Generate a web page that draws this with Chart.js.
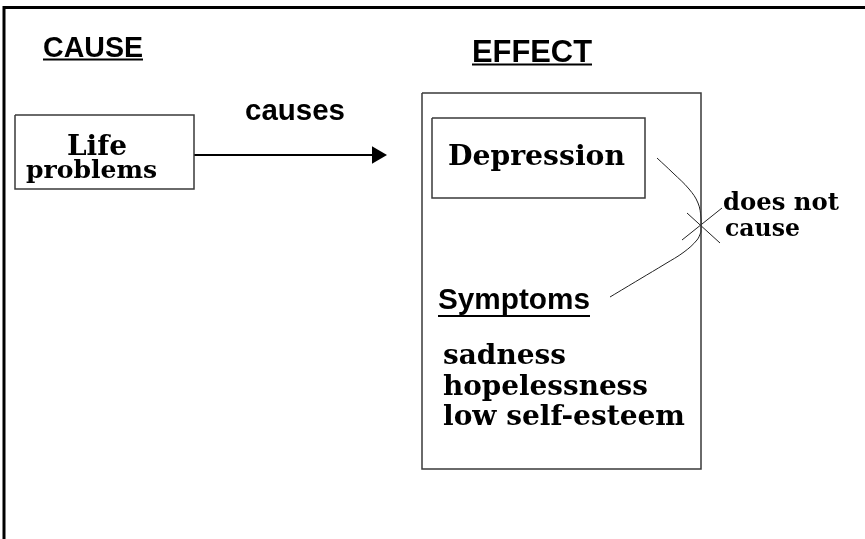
<!DOCTYPE html>
<html><head><meta charset="utf-8">
<script src="https://cdn.jsdelivr.net/npm/chart.js@4/dist/chart.umd.min.js"></script>
<style>html,body{margin:0;padding:0;background:#fff;overflow:hidden}canvas{display:block}</style>
</head><body>
<canvas id="c" width="865" height="539"></canvas>
<script>
// ---------- content ----------
const headings = ['CAUSE', 'EFFECT'];
const linkLabel = ['causes'];
const causeLines = ['Life', 'problems'];
const effectTitle = ['Depression'];
const negLabel = ['does not', 'cause'];
const symptomsTitle = ['Symptoms'];
const symptoms = ['sadness', 'hopelessness', 'low self-esteem'];

// ---------- diagram geometry (diagram units, y grows downward) ----------
const frameX = [865, 4, 4];
const frameY = [7.5, 7.5, 539];
const boxX0 = [15, 422, 432];
const boxX1 = [194, 701, 645];
const boxY0 = [115, 93, 118];
const boxY1 = [189, 469, 198];
const arrowX = [194, 375];
const arrowY = [155, 155];
const arcUpX = [657, 673, 689, 698, 701, 701];
const arcUpY = [158, 173, 189, 203, 218, 232];
const arcLowX = [701, 697, 684, 665, 640, 610];
const arcLowY = [232, 240, 252, 264, 279, 297];
const crossAX = [687, 720], crossAY = [213, 243];
const crossBX = [682, 722], crossBY = [240, 208];

// text placement: left x, baseline y, target width
const SANS = '"Liberation Sans", Arial, sans-serif';
const SERIF = '"DejaVu Serif", serif';
const textItems = [
  {t: headings[0], x: 43, y: 57, w: 100, f: SANS, u: 59.5},
  {t: headings[1], x: 472, y: 62, w: 120, f: SANS, u: 64.5},
  {t: linkLabel[0], x: 245, y: 120, w: 100, f: SANS},
  {t: causeLines[0], x: 67, y: 155, w: 60, f: SERIF},
  {t: causeLines[1], x: 26, y: 178, w: 131, f: SERIF},
  {t: effectTitle[0], x: 448, y: 165, w: 177, f: SERIF},
  {t: negLabel[0], x: 723, y: 210, w: 116, f: SERIF},
  {t: negLabel[1], x: 725, y: 236, w: 75, f: SERIF},
  {t: symptomsTitle[0], x: 438, y: 309, w: 152, f: SANS, u: 316},
  {t: symptoms[0], x: 443, y: 364, w: 123, f: SERIF},
  {t: symptoms[1], x: 443, y: 395, w: 205, f: SERIF},
  {t: symptoms[2], x: 443, y: 425, w: 242, f: SERIF}
];

function pts(xs, ys) { return xs.map((x, i) => ({x: x, y: ys[i]})); }
function boxPts(i) {
  return [{x: boxX0[i], y: boxY0[i]}, {x: boxX1[i], y: boxY0[i]}, {x: boxX1[i], y: boxY1[i]},
          {x: boxX0[i], y: boxY1[i]}, {x: boxX0[i], y: boxY0[i]}];
}
const lineBase = {showLine: true, pointRadius: 0, fill: false, tension: 0, clip: false};

const datasets = [
  Object.assign({}, lineBase, {data: pts(frameX, frameY), borderColor: '#000', borderWidth: 3}),
  Object.assign({}, lineBase, {data: boxPts(0), borderColor: '#3a3a3a', borderWidth: 1.5}),
  Object.assign({}, lineBase, {data: boxPts(1), borderColor: '#3a3a3a', borderWidth: 1.5}),
  Object.assign({}, lineBase, {data: boxPts(2), borderColor: '#3a3a3a', borderWidth: 1.5}),
  Object.assign({}, lineBase, {data: pts(arrowX, arrowY), borderColor: '#000', borderWidth: 2}),
  {data: [{x: arrowX[1] + 2, y: arrowY[1]}], showLine: false, pointStyle: 'triangle', rotation: 90,
   pointRadius: 10, backgroundColor: '#000', borderColor: '#000', borderWidth: 0, clip: false},
  Object.assign({}, lineBase, {data: pts(arcUpX, arcUpY), borderColor: '#222', borderWidth: 1, tension: 0.4}),
  Object.assign({}, lineBase, {data: pts(arcLowX, arcLowY), borderColor: '#222', borderWidth: 1, tension: 0.4}),
  Object.assign({}, lineBase, {data: pts(crossAX, crossAY), borderColor: '#222', borderWidth: 1}),
  Object.assign({}, lineBase, {data: pts(crossBX, crossBY), borderColor: '#222', borderWidth: 1})
];

const textPlugin = {
  id: 'diagramText',
  afterDatasetsDraw(chart) {
    const ctx = chart.ctx, sx = chart.scales.x, sy = chart.scales.y;
    ctx.save();
    ctx.fillStyle = '#000';
    ctx.textBaseline = 'alphabetic';
    ctx.textAlign = 'left';
    textItems.forEach(it => {
      ctx.font = 'bold 20px ' + it.f;
      const size = 20 * it.w / ctx.measureText(it.t).width;
      ctx.font = 'bold ' + size.toFixed(2) + 'px ' + it.f;
      const px = sx.getPixelForValue(it.x), py = sy.getPixelForValue(it.y);
      ctx.fillText(it.t, px, py);
      if (it.u) {
        const uy = sy.getPixelForValue(it.u);
        ctx.fillRect(px, uy - 1, sx.getPixelForValue(it.x + it.w) - px, 2);
      }
    });
    ctx.restore();
  }
};

new Chart(document.getElementById('c'), {
  type: 'scatter',
  data: {datasets: datasets},
  options: {
    responsive: false,
    animation: false,
    devicePixelRatio: 1,
    layout: {padding: 0, autoPadding: false},
    plugins: {legend: {display: false}, tooltip: {enabled: false}},
    events: [],
    scales: {
      x: {type: 'linear', min: 0, max: 865, display: false},
      y: {type: 'linear', min: 0, max: 539, reverse: true, display: false}
    }
  },
  plugins: [textPlugin]
});
</script>
</body></html>
